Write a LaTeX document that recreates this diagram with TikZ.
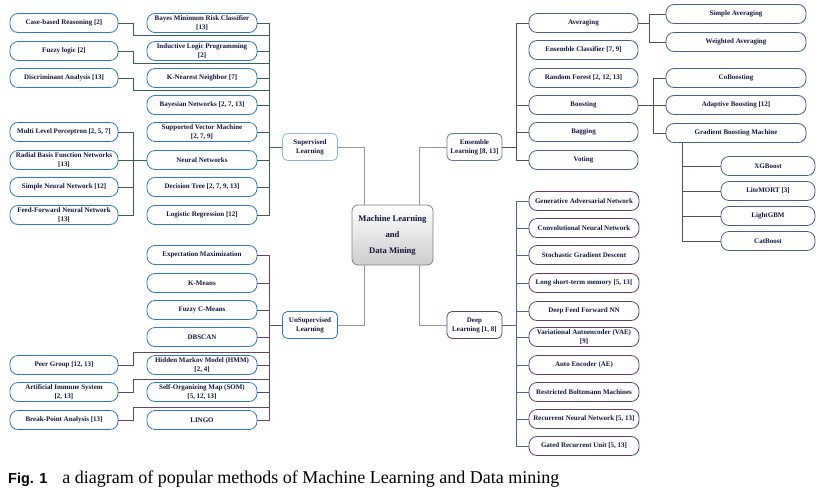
\documentclass[tikz,border=0pt]{standalone}
\usepackage{fontspec}
\setmainfont{Liberation Serif}
\setsansfont{Liberation Sans}
\usetikzlibrary{calc}

\definecolor{boxtext}{RGB}{18,22,60}
\definecolor{leafblue}{RGB}{48,122,196}
\definecolor{leafens}{RGB}{70,95,140}
\definecolor{leafdeep}{RGB}{98,62,112}
\definecolor{suplinec}{RGB}{58,96,80}
\definecolor{unslinec}{RGB}{96,66,112}
\definecolor{enslinec}{RGB}{88,78,72}
\definecolor{deeplinec}{RGB}{72,102,150}
\definecolor{midlinec}{RGB}{150,150,150}

\tikzset{
  leaf/.style={draw=leafblue, line width=0.8pt, fill=white, rounded corners=8pt,
    minimum width=110pt, minimum height=19pt, inner sep=1pt, align=center,
    text=boxtext, font=\fontsize{7}{8.5}\selectfont\bfseries},
  outer/.style={leaf, minimum width=108pt},
  ensleaf/.style={leaf, draw=leafens, minimum width=109pt},
  wideleaf/.style={leaf, draw=leafens, minimum width=140pt},
  gbmleaf/.style={leaf, draw=leafens, minimum width=94pt},
  deepleaf/.style={leaf, draw=leafdeep},
  branch/.style={draw, line width=0.8pt, fill=white, rounded corners=5pt,
    minimum width=55pt, minimum height=27pt, inner sep=1pt, align=center,
    text=boxtext, font=\fontsize{7}{9}\selectfont\bfseries},
  supline/.style={draw=suplinec, line width=0.8pt},
  unsline/.style={draw=unslinec, line width=0.8pt},
  ensline/.style={draw=enslinec, line width=0.8pt},
  deepline/.style={draw=deeplinec, line width=0.8pt},
  midline/.style={draw=midlinec, line width=0.9pt}
}

\begin{document}
\begin{tikzpicture}[x=1pt,y=-1pt]

\fill[white] (0,0) rectangle (820,501);
\useasboundingbox (0,0) rectangle (820,501);

% Centre
\node[draw=gray, line width=0.8pt, rounded corners=6pt, top color=white, bottom color=gray!40,
  minimum width=81pt, minimum height=60pt, align=center, text=boxtext,
  font=\fontsize{8.6}{16}\selectfont\bfseries] (ml) at (392.5,235) {Machine Learning\\and\\Data Mining};

% Branches
\node[branch, draw=leafblue!55] (sup) at (310,147) {Supervised\\Learning};
\node[branch, draw=leafblue] (uns) at (310,325) {UnSupervised\\Learning};
\node[branch, draw=leafens!85] (ens) at (474.5,147) {Ensemble\\{}Learning [8, 13]};
\node[branch, draw=leafdeep] (dl) at (474.5,325) {Deep\\{}Learning [1, 8]};

% Supervised learning
\node[leaf] (bmr) at (202,23) {Bayes Minimum Risk Classifier\\{}[13]};
\node[leaf] (ilp) at (202,51) {Inductive Logic Programming\\{}[2]};
\node[leaf] (knn) at (202,78) {K-Nearest Neighbor [7]};
\node[leaf] (bnw) at (202,105) {Bayesian Networks [2, 7, 13]};
\node[leaf] (svm) at (202,132) {Supported Vector Machine\\{}[2, 7, 9]};
\node[leaf] (nnw) at (202,160) {Neural Networks};
\node[leaf] (dtr) at (202,187) {Decision Tree [2, 7, 9, 13]};
\node[leaf] (lgr) at (202,215) {Logistic Regression [12]};

\node[outer] (cbr) at (64,23) {Case-based Reasoning [2]};
\node[outer] (fzl) at (64,51) {Fuzzy logic [2]};
\node[outer] (dsa) at (64,78) {Discriminant Analysis [13]};
\node[outer] (mlp) at (64,132) {Multi Level Perceptron [2, 5, 7]};
\node[outer] (rbf) at (64,160) {Radial Basis Function Networks\\{}[13]};
\node[outer] (snn) at (64,187) {Simple Neural Network [12]};
\node[outer] (ffn) at (64,215) {Feed-Forward Neural Network\\{}[13]};

% Unsupervised learning
\node[leaf] (emx) at (202,255) {Expectation Maximization};
\node[leaf] (kme) at (202,283) {K-Means};
\node[leaf] (fcm) at (202,310) {Fuzzy C-Means};
\node[leaf] (dbs) at (202,337) {DBSCAN};
\node[leaf] (hmm) at (202,365) {Hidden Markov Model (HMM)\\{}[2, 4]};
\node[leaf] (som) at (202,392) {Self-Organizing Map (SOM)\\{}[5, 12, 13]};
\node[leaf] (lin) at (202,420) {LINGO};

\node[outer] (pgr) at (64,365) {Peer Group [12, 13]};
\node[outer] (ais) at (64,392) {Artificial Immune System\\{}[2, 13]};
\node[outer] (bpa) at (64,420) {Break-Point Analysis [13]};

% Ensemble learning
\node[ensleaf] (avg) at (583.5,23) {Averaging};
\node[ensleaf] (ecl) at (583.5,50) {Ensemble Classifier [7, 9]};
\node[ensleaf] (rfo) at (583.5,78) {Random Forest [2, 12, 13]};
\node[ensleaf] (bst) at (583.5,105) {Boosting};
\node[ensleaf] (bag) at (583.5,132) {Bagging};
\node[ensleaf] (vot) at (583.5,160) {Voting};

\node[wideleaf] (sav) at (736,14) {Simple Averaging};
\node[wideleaf] (wav) at (736,42) {Weighted Averaging};
\node[wideleaf] (cob) at (736,78) {CoBoosting};
\node[wideleaf] (ada) at (736,105) {Adaptive Boosting [12]};
\node[wideleaf] (gbm) at (736,133) {Gradient Boosting Machine};

\node[gbmleaf] (xgb) at (768,166) {XGBoost};
\node[gbmleaf] (lmo) at (768,191) {LiteMORT [3]};
\node[gbmleaf] (lgb) at (768,216) {LightGBM};
\node[gbmleaf] (cat) at (768,241) {CatBoost};

% Deep learning
\node[deepleaf] (gan) at (584,201) {Generative Adversarial Network};
\node[deepleaf] (cnn) at (584,228) {Convolutional Neural Network};
\node[deepleaf] (sgd) at (584,255) {Stochastic Gradient Descent};
\node[deepleaf] (lstm) at (584,283) {Long short-term memory [5, 13]};
\node[deepleaf] (dff) at (584,311) {Deep Feed Forward NN};
\node[deepleaf] (vae) at (584,337) {Variational Autoencoder (VAE)\\{}[9]};
\node[deepleaf] (aue) at (584,365) {Auto Encoder (AE)};
\node[deepleaf] (rbm) at (584,392) {Restricted Boltzmann Machines};
\node[deepleaf] (rnn) at (584,419) {Recurrent Neural Network [5, 13]};
\node[deepleaf] (gru) at (584,446) {Gated Recurrent Unit [5, 13]};

% Centre connectors
\draw[midline] (sup.east) -| ([xshift=13pt]ml.north west);
\draw[midline] (ens.west) -| ([xshift=-14pt]ml.north east);
\draw[midline] (uns.east) -| ([xshift=13pt]ml.south west);
\draw[midline] (dl.west) -| ([xshift=-14pt]ml.south east);

% Supervised connectors
\coordinate (sbus) at (269,147);
\foreach \n in {bmr,ilp,knn,bnw,svm,nnw,dtr,lgr}
  \draw[supline] (\n.east) -| (sbus);
\draw[supline] (sbus) -- (sup.west);
\foreach \a/\b in {cbr/bmr,fzl/ilp,dsa/knn}
  \draw[supline] (\a.east) -- ++(15,0) |- ($(\b.south -| sbus)+(0,2)$);
\coordinate (nnj) at (133,160);
\draw[supline] (mlp.east) -| (nnj);
\draw[supline] (ffn.east) -| (nnj);
\draw[supline] (rbf.east) -- (nnw.west);
\draw[supline] (snn.east) -- (snn.east -| nnj);

% Unsupervised connectors
\coordinate (ubus) at (269,325);
\foreach \n in {emx,kme,fcm,dbs,hmm,som,lin}
  \draw[unsline] (\n.east) -| (ubus);
\draw[unsline] (ubus) -- (uns.west);
\foreach \a/\b in {pgr/hmm,ais/som,bpa/lin}
  \draw[unsline] (\a.east) -- ++(15,0) |- ($(\b.north -| ubus)+(0,-3)$);

% Ensemble connectors
\coordinate (ebus) at (516,147);
\foreach \n in {avg,bst,bag,vot}
  \draw[ensline] (\n.west) -| (ebus);
\draw[ensline] (ens.east) -- (ebus);
\coordinate (avgj) at (649,23);
\draw[ensline] (avg.east) -- (avgj);
\draw[ensline] (sav.west) -| (avgj);
\draw[ensline] (wav.west) -| (avgj);
\coordinate (bstj) at (653,105);
\draw[ensline] (bst.east) -- (ada.west);
\draw[ensline] (cob.west) -| (bstj);
\draw[ensline] (gbm.west) -| (bstj);
\coordinate (gbmj) at ([xshift=-54pt]gbm.south);
\foreach \n in {xgb,lmo,lgb,cat}
  \draw[ensline] (\n.west) -| (gbmj);

% Deep learning connectors
\coordinate (dbus) at (516,325);
\foreach \n in {gan,cnn,sgd,lstm,dff,vae,aue,rbm,rnn,gru}
  \draw[deepline] (\n.west) -| (dbus);
\draw[deepline] (dl.east) -- (dbus);

% Caption
\node[anchor=base west, inner sep=0pt, font=\fontsize{18}{21}\selectfont] (cap) at (8,483)
  {{\fontsize{14.5}{17}\selectfont\sffamily\bfseries Fig. 1}\hspace{15pt}a diagram of popular methods of Machine Learning and Data mining};

\end{tikzpicture}
\end{document}
